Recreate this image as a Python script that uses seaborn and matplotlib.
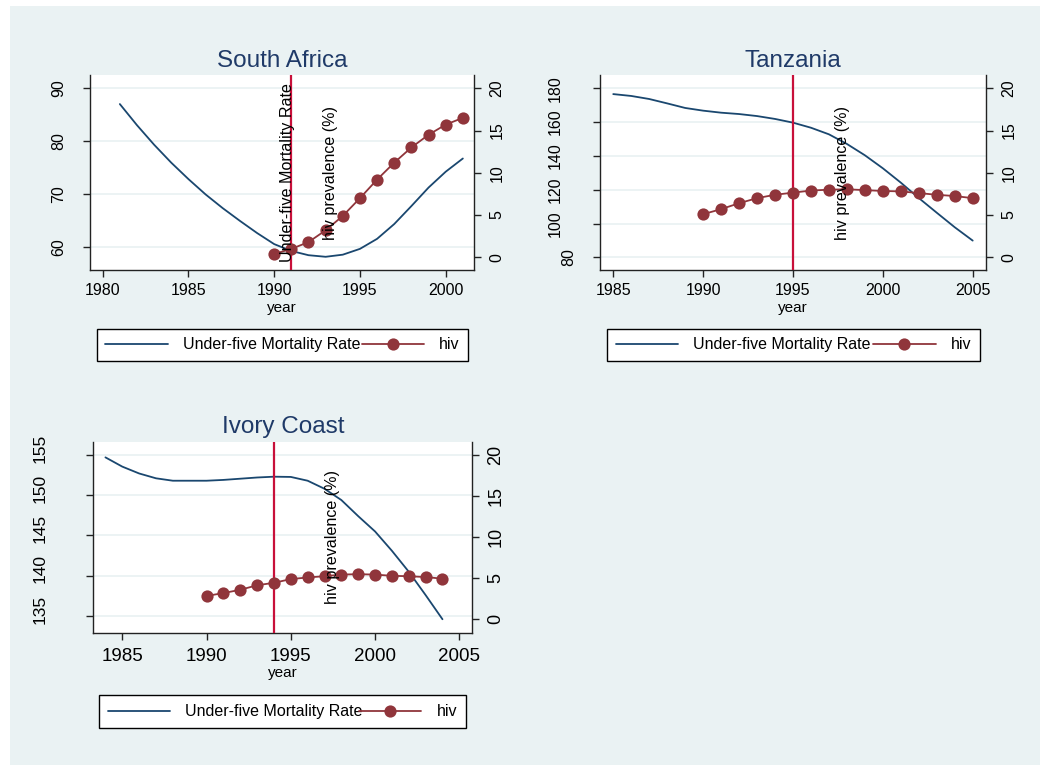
import numpy as np
import pandas as pd
import matplotlib
matplotlib.use("Agg")
import matplotlib.pyplot as plt
import matplotlib.transforms as mtransforms
from matplotlib.patches import Rectangle
import seaborn as sns

# ---------------- data ----------------
sa_u5_years = list(range(1981, 2002))
sa_u5mr = [87.0, 83.0, 79.3, 75.9, 72.8, 69.9, 67.3, 64.9, 62.6, 60.5, 59.2,
           58.4, 58.1, 58.5, 59.6, 61.5, 64.3, 67.7, 71.2, 74.2, 76.7]
sa_hiv_years = list(range(1990, 2002))
sa_hiv = [0.4, 1.0, 1.8, 3.2, 4.9, 7.0, 9.2, 11.2, 13.0, 14.5, 15.7, 16.5]
sa_event = 1991

tz_u5_years = list(range(1985, 2006))
tz_u5mr = [176.6, 175.5, 173.7, 171.1, 168.4, 166.8, 165.6, 164.8, 163.6, 161.9,
           159.7, 156.7, 152.8, 147.1, 140.4, 132.7, 124.2, 115.1, 106.4, 97.8, 89.9]
tz_hiv_years = list(range(1990, 2006))
tz_hiv = [5.1, 5.7, 6.4, 7.0, 7.4, 7.65, 7.9, 8.0, 8.05, 7.95, 7.85, 7.8,
          7.6, 7.4, 7.25, 7.0]
tz_event = 1995

ic_u5_years = list(range(1984, 2005))
ic_u5mr = [154.7, 153.55, 152.7, 152.1, 151.8, 151.8, 151.8, 151.9, 152.05, 152.2,
           152.3, 152.27, 151.8, 150.8, 149.4, 147.4, 145.5, 143.1, 140.5, 137.6, 134.6]
ic_hiv_years = list(range(1990, 2005))
ic_hiv = [2.85, 3.2, 3.6, 4.15, 4.45, 4.9, 5.1, 5.25, 5.45, 5.5, 5.45, 5.3,
          5.25, 5.15, 4.95]
ic_event = 1994

country_names = ["South Africa", "Tanzania", "Ivory Coast"]
legend_labels = ["Under-five Mortality Rate", "hiv"]
left_title = "Under-five Mortality Rate"
right_title = "hiv prevalence (%)"
x_title = "year"

# ---------------- style ----------------
sns.set_theme(style="white")
plt.rcParams["font.family"] = ["Liberation Sans", "DejaVu Sans"]
plt.rcParams["text.color"] = "black"
plt.rcParams["axes.labelcolor"] = "black"
plt.rcParams["xtick.color"] = "black"
plt.rcParams["ytick.color"] = "black"

BG = "#eaf2f3"
NAVY = "#1a476f"
MAROON = "#90353b"
VLINE = "#c8103a"
TITLE_C = "#1f3a68"

W, H = 1050, 771
fig = plt.figure(figsize=(W / 100, H / 100), dpi=100, facecolor="white")
fig.patches.append(Rectangle((10 / W, 1 - 765 / H), 1030 / W, 759 / H,
                             transform=fig.transFigure, facecolor=BG,
                             edgecolor="none", zorder=-10))


def px_rect(x0, y0, x1, y1):
    return [x0 / W, 1 - y1 / H, (x1 - x0) / W, (y1 - y0) / H]


def panel(rect, name, u5_years, u5, hiv_years, hiv, event,
          xticks, xlim, lticks, llim, rlim, leg_rect,
          xfs=11.5, lfs=11.5, rfs=11.5, lpad=12, rpad=6, xpad=4.3, title_pad=6,
          xlabelpad=0, ylab_shift=0, text_items=()):
    ax = fig.add_axes(rect)
    ax.set_facecolor("white")
    ax2 = ax.twinx()

    df1 = pd.DataFrame({"year": u5_years, "u5": u5})
    df2 = pd.DataFrame({"year": hiv_years, "hiv": hiv})
    sns.lineplot(data=df1, x="year", y="u5", ax=ax, color=NAVY, lw=1.3,
                 label=legend_labels[0])
    sns.lineplot(data=df2, x="year", y="hiv", ax=ax2, color=MAROON, lw=1.3,
                 marker="o", markersize=8.8, markeredgewidth=0,
                 label=legend_labels[1])
    ax.axvline(event, color=VLINE, lw=1.6, zorder=3)

    ax.set_xlim(*xlim)
    ax.set_xticks(xticks)
    ax.set_ylim(*llim)
    ax.set_yticks(lticks)
    ax2.set_ylim(*rlim)
    ax2.set_yticks([0, 5, 10, 15, 20])

    ax.yaxis.grid(True, color=BG, lw=1.3)
    ax.xaxis.grid(False)
    ax.set_axisbelow(True)

    for sp in ["top", "right"]:
        ax.spines[sp].set_visible(False)
    for sp in ["top", "left", "bottom"]:
        ax2.spines[sp].set_visible(False)
    for sp in [ax.spines["left"], ax.spines["bottom"], ax2.spines["right"]]:
        sp.set_color("#222222")
        sp.set_linewidth(1.0)

    ax.tick_params(axis="x", direction="out", length=5, width=1, color="#222222",
                   labelsize=xfs, pad=xpad, bottom=True, labelcolor="black")
    ax.tick_params(axis="y", direction="out", length=5, width=1, color="#222222",
                   labelsize=lfs, pad=lpad, left=True, labelrotation=90,
                   labelcolor="black")
    ax2.tick_params(axis="y", direction="out", length=5, width=1, color="#222222",
                    labelsize=rfs, pad=rpad, right=True, labelrotation=90,
                    labelcolor="black")
    for lab in ax.get_yticklabels():
        lab.set_va("center")
    for lab in ax2.get_yticklabels():
        lab.set_va("center")
    if ylab_shift:
        off = mtransforms.ScaledTranslation(0, ylab_shift / 100, fig.dpi_scale_trans)
        for lab in ax.get_yticklabels():
            lab.set_transform(lab.get_transform() + off)

    ax.set_ylabel("")
    ax2.set_ylabel("")
    ax.set_xlabel(x_title, fontsize=11, labelpad=xlabelpad, color="black")
    ax.set_title(name, fontsize=17.5, color=TITLE_C, pad=title_pad)

    trans = mtransforms.blended_transform_factory(ax2.transData, ax2.transAxes)
    for xpos, txt in text_items:
        ax2.text(xpos, 0.5, txt, transform=trans, rotation=90, ha="center",
                 va="center", fontsize=11.6, color="black", zorder=10)

    h1, l1 = ax.get_legend_handles_labels()
    h2, l2 = ax2.get_legend_handles_labels()
    if ax.get_legend():
        ax.get_legend().remove()
    if ax2.get_legend():
        ax2.get_legend().remove()
    leg = ax2.legend(h1 + h2, l1 + l2, ncol=2, mode="expand", loc="center",
                     bbox_to_anchor=leg_rect, bbox_transform=fig.transFigure,
                     frameon=True, fancybox=False, shadow=False, framealpha=1,
                     edgecolor="black", facecolor="white", fontsize=11.5,
                     handlelength=3.9, handletextpad=0.95, borderpad=0.55,
                     columnspacing=0.3, numpoints=1, borderaxespad=0,
                     labelcolor="black")
    leg.get_frame().set_linewidth(1.0)
    return ax, ax2


# South Africa
panel(px_rect(90, 75, 474, 270), country_names[0], sa_u5_years, sa_u5mr,
      sa_hiv_years, sa_hiv, sa_event,
      xticks=[1980, 1985, 1990, 1995, 2000], xlim=(1979.26, 2001.65),
      lticks=[60, 70, 80, 90], llim=(55.6, 92.5), rlim=(-1.5, 21.57),
      leg_rect=px_rect(96.7, 326.7, 468.3, 363.3),
      lpad=12, xlabelpad=2,
      text_items=[(1990.8, left_title), (1993.3, right_title)])

# Tanzania
ax_tz, _ = panel(px_rect(600.3, 75, 986, 270), country_names[1], tz_u5_years, tz_u5mr,
                 tz_hiv_years, tz_hiv, tz_event,
                 xticks=[1985, 1990, 1995, 2000, 2005], xlim=(1984.28, 2005.74),
                 lticks=[80, 100, 120, 140, 160, 180], llim=(72.5, 187.9),
                 rlim=(-1.5, 21.57),
                 leg_rect=px_rect(607, 326.7, 980, 363.3),
                 lpad=22, xlabelpad=2, text_items=[(1997.75, right_title)])
lab80 = ax_tz.get_yticklabels()[0]
lab80.set_transform(lab80.get_transform() +
                    mtransforms.ScaledTranslation(0.13, 0, fig.dpi_scale_trans))

# Ivory Coast
panel(px_rect(93.3, 442.3, 472.3, 632.7), country_names[2], ic_u5_years, ic_u5mr,
      ic_hiv_years, ic_hiv, ic_event,
      xticks=[1985, 1990, 1995, 2000, 2005], xlim=(1983.28, 2005.77),
      lticks=[135, 140, 145, 150, 155], llim=(132.93, 156.57), rlim=(-1.62, 21.54),
      leg_rect=px_rect(99, 693.3, 465.7, 730),
      xfs=13.5, lfs=12.5, rfs=13, lpad=28, rpad=6, xpad=6, title_pad=7,
      xlabelpad=1, ylab_shift=7, text_items=[(1997.48, right_title)])

fig.savefig("out.png", dpi=100, facecolor="white")
